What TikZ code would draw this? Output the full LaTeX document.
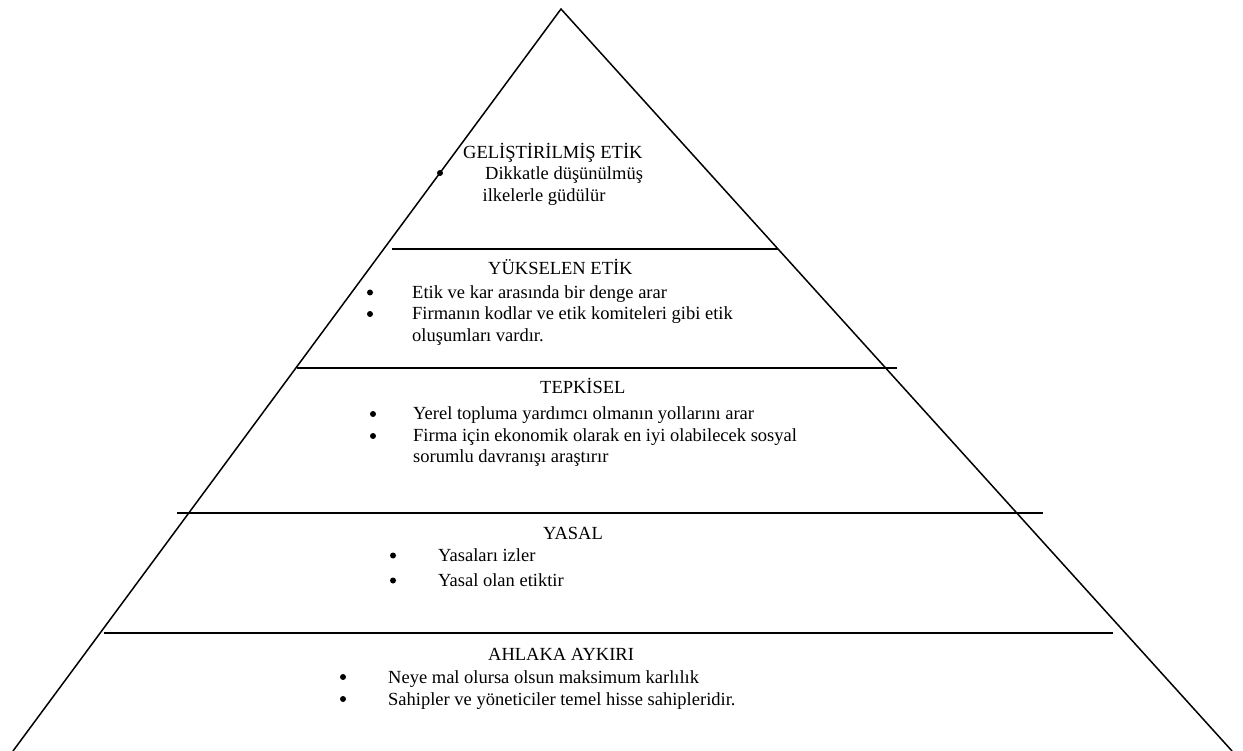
\documentclass[tikz,border=0pt]{standalone}
\usepackage{fontspec}
\setmainfont{Liberation Serif}
\begin{document}
\begin{tikzpicture}[x=1pt,y=-1pt,
  edge/.style={line width=1.5pt},
  tier/.style={line width=2.2pt},
  txt/.style={anchor=base west,inner sep=0pt,font=\fontsize{18.5}{22}\selectfont},
  bul/.style={circle,fill=black,inner sep=0pt,minimum size=6pt}]
\useasboundingbox (0,0) rectangle (1243,751);
% triangle
\coordinate (apex) at (561,9);
\coordinate (bl) at (13,751);
\coordinate (br) at (1232,751);
\draw[edge] (bl) -- (apex) -- (br);
% tier lines
\coordinate (l1a) at (392,249); \coordinate (l1b) at (778,249);
\coordinate (l2a) at (297,368); \coordinate (l2b) at (897,368);
\coordinate (l3a) at (177,513); \coordinate (l3b) at (1043,513);
\coordinate (l4a) at (104,633); \coordinate (l4b) at (1113,633);
\draw[tier] (l1a) -- (l1b);
\draw[tier] (l2a) -- (l2b);
\draw[tier] (l3a) -- (l3b);
\draw[tier] (l4a) -- (l4b);
% top tier
\node[txt] (t1) at (463,158.3) {GELİŞTİRİLMİŞ ETİK};
\node[bul] (b1) at (440,173) {};
\node[txt] (t1a) at (485,179.5) {Dikkatle düşünülmüş};
\node[txt] (t1b) at (482.5,201.5) {ilkelerle güdülür};
% second tier
\node[txt] (t2) at (488,275) {YÜKSELEN ETİK};
\node[bul] (b2a) at (370,292.5) {};
\node[txt] (t2a) at (412,298.3) {Etik ve kar arasında bir denge arar};
\node[bul] (b2b) at (370,314) {};
\node[txt] (t2b) at (412,320) {Firmanın kodlar ve etik komiteleri gibi etik};
\node[txt] (t2c) at (412,341.7) {oluşumları vardır.};
% third tier
\node[txt] (t3) at (540,394) {TEPKİSEL};
\node[bul] (b3a) at (373,414) {};
\node[txt] (t3a) at (413,420) {Yerel topluma yardımcı olmanın yollarını arar};
\node[bul] (b3b) at (373,436) {};
\node[txt] (t3b) at (413,441.7) {Firma için ekonomik olarak en iyi olabilecek sosyal};
\node[txt] (t3c) at (413,462) {sorumlu davranışı araştırır};
% fourth tier
\node[txt] (t4) at (543,539) {YASAL};
\node[bul] (b4a) at (393,555.5) {};
\node[txt] (t4a) at (438,561.7) {Yasaları izler};
\node[bul] (b4b) at (393,580.5) {};
\node[txt] (t4b) at (438,586.7) {Yasal olan etiktir};
% bottom tier
\node[txt] (t5) at (488,660) {AHLAKA AYKIRI};
\node[bul] (b5a) at (343,677) {};
\node[txt] (t5a) at (388,683) {Neye mal olursa olsun maksimum karlılık};
\node[bul] (b5b) at (343,699) {};
\node[txt] (t5b) at (388,705) {Sahipler ve yöneticiler temel hisse sahipleridir.};
\end{tikzpicture}
\end{document}
